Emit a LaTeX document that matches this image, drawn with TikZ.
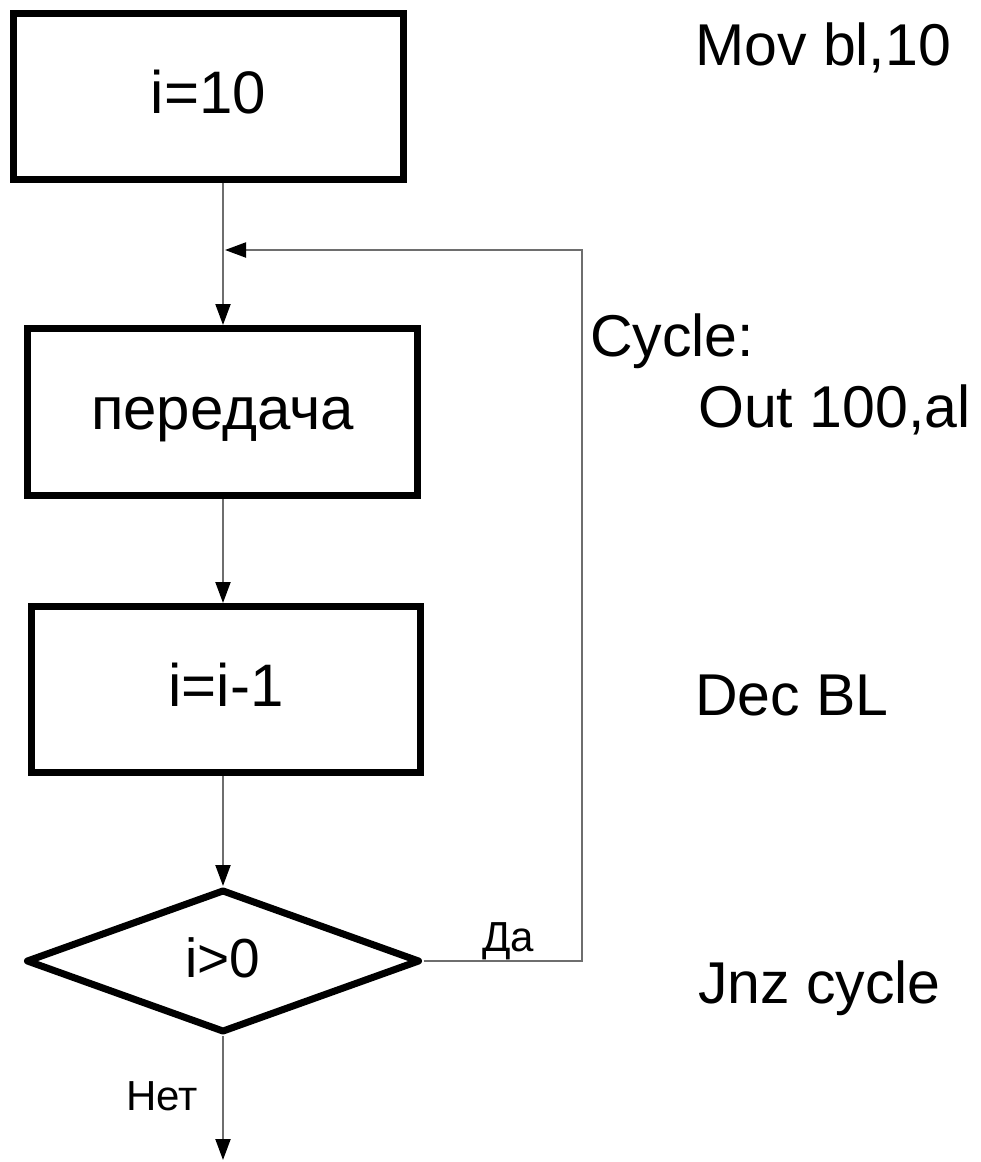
\documentclass[tikz,border=0pt]{standalone}
\usepackage{fontspec}
\setmainfont{Liberation Sans}
\usetikzlibrary{shapes.geometric,arrows.meta}
\definecolor{conngray}{HTML}{6E6E6E}
\tikzset{
 procbox/.style={draw=black, line width=7pt, rectangle, inner sep=0pt, minimum width=390pt, minimum height=166pt, font=\fontsize{60}{72}\selectfont, text height=34pt, text depth=0pt},
 decision/.style={draw=black, line width=7pt, diamond, line join=round, inner sep=0pt, minimum width=394pt, minimum height=143pt, font=\fontsize{55}{66}\selectfont, text height=32pt, text depth=0pt},
 conn/.style={draw=conngray, line width=2pt, -{Triangle[length=21pt,width=15pt,color=black]}},
 asm/.style={anchor=base west, inner sep=0pt, font=\fontsize{59}{70}\selectfont},
 lbl/.style={anchor=base, inner sep=0pt, font=\fontsize{42}{50}\selectfont},
}
\begin{document}
\begin{tikzpicture}[x=1pt,y=-1pt]
\useasboundingbox (0,0) rectangle (980,1162);
\node[procbox] (b1) at (208.5,96) {i=10};
\node[procbox, minimum height=167pt] (b2) at (222.5,412) {передача};
\node[procbox, minimum width=389pt] (b3) at (226,689.5) {i=i-1};
\node[decision] (d) at (223,961) {i>0};
\coordinate (colx) at (223,0);
\coordinate (lp) at (582,250);
\coordinate (j) at (225,250);
\coordinate (out) at (223,1160);
\draw[conn] (b1.south -| colx) -- (b2.north -| colx);
\draw[conn] (b2.south -| colx) -- (b3.north -| colx);
\draw[conn] (b3.south -| colx) -- (d.north);
\draw[conn] (d.east) -| (lp) -- (j);
\draw[conn] (d.south) -- (out);
\node[lbl] (da) at (508,951) {Да};
\node[lbl] (net) at (162,1110) {Нет};
\node[asm] (a1) at (695,65) {Mov bl,10};
\node[asm] (a2) at (590,356) {Cycle:};
\node[asm] (a3) at (698,427) {Out 100,al};
\node[asm] (a4) at (695,715) {Dec BL};
\node[asm] (a5) at (698,1003) {Jnz cycle};
\end{tikzpicture}
\end{document}
